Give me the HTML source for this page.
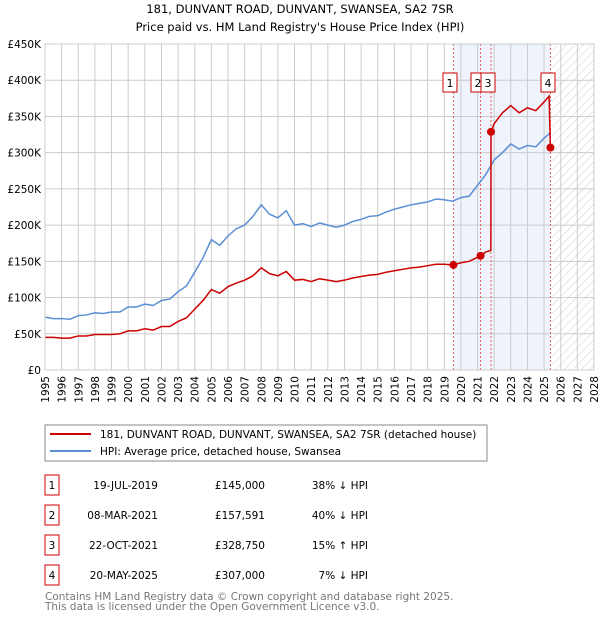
<!DOCTYPE html>
<html><head><meta charset="utf-8"><style>
body{margin:0;background:#fff;font-family:"Liberation Sans","DejaVu Sans",sans-serif;}
svg text{font-family:"DejaVu Sans","Liberation Sans",sans-serif;}
</style></head><body>
<svg id="c" width="600" height="620" viewBox="0 0 600 620" xmlns="http://www.w3.org/2000/svg">
<defs><pattern id="hatch" width="6" height="6" patternUnits="userSpaceOnUse" patternTransform="rotate(45)"><line x1="0" y1="0" x2="0" y2="6" stroke="#ccc" stroke-width="1"/></pattern></defs>
<text x="300" y="13" text-anchor="middle" font-size="11.5">181, DUNVANT ROAD, DUNVANT, SWANSEA, SA2 7SR</text>
<text x="300" y="31" text-anchor="middle" font-size="11.5">Price paid vs. HM Land Registry's House Price Index (HPI)</text>
<g id="plot"></g>
<g>
<rect x="45" y="425" width="442" height="36" fill="#fff" stroke="#888"/>
<line x1="50" y1="434" x2="91" y2="434" stroke="#cc0000" stroke-width="2"/>
<text x="100" y="438" font-size="10.5">181, DUNVANT ROAD, DUNVANT, SWANSEA, SA2 7SR (detached house)</text>
<line x1="50" y1="451" x2="91" y2="451" stroke="#5b8fd4" stroke-width="2"/>
<text x="100" y="455" font-size="10.5">HPI: Average price, detached house, Swansea</text>
</g>
<g id="table" font-size="10.5"></g>
<text x="45" y="600" font-size="10.5" fill="#777">Contains HM Land Registry data © Crown copyright and database right 2025.</text>
<text x="45" y="610" font-size="10.5" fill="#777">This data is licensed under the Open Government Licence v3.0.</text>
</svg>
<script>
const hpiYears=[1995,1995.5,1996,1996.5,1997,1997.5,1998,1998.5,1999,1999.5,2000,2000.5,2001,2001.5,2002,2002.5,2003,2003.5,2004,2004.5,2005,2005.5,2006,2006.5,2007,2007.5,2008,2008.5,2009,2009.5,2010,2010.5,2011,2011.5,2012,2012.5,2013,2013.5,2014,2014.5,2015,2015.5,2016,2016.5,2017,2017.5,2018,2018.5,2019,2019.5,2020,2020.5,2021,2021.5,2022,2022.5,2023,2023.5,2024,2024.5,2025,2025.4];
const hpiValues=[73,71,71,70,75,76,79,78,80,80,87,87,91,89,96,98,108,116,135,155,180,172,185,195,200,212,228,215,210,220,200,202,198,203,200,197,200,205,208,212,213,218,222,225,228,230,232,236,235,233,238,240,255,270,290,300,312,305,310,308,320,328];
const priceYears=[1995,1995.5,1996,1996.5,1997,1997.5,1998,1998.5,1999,1999.5,2000,2000.5,2001,2001.5,2002,2002.5,2003,2003.5,2004,2004.5,2005,2005.5,2006,2006.5,2007,2007.5,2008,2008.5,2009,2009.5,2010,2010.5,2011,2011.5,2012,2012.5,2013,2013.5,2014,2014.5,2015,2015.5,2016,2016.5,2017,2017.5,2018,2018.5,2019,2019.55,2020,2020.5,2021.18,2021.5,2021.8,2021.81,2022,2022.5,2023,2023.5,2024,2024.5,2025,2025.3,2025.38];
const priceValues=[45,45,44,44,47,47,49,49,49,50,54,54,57,55,60,60,67,72,84,96,111,106,115,120,124,130,141,133,130,136,124,125,122,126,124,122,124,127,129,131,132,135,137,139,141,142,144,146,146,145,148,150,157.6,163,165,328.75,340,355,365,355,362,358,370,378,307];
const saleLabels=["1","2","3","4"];
const saleYears=[2019.55,2021.18,2021.81,2025.38];
const saleValues=[145,157.591,328.75,307];
const saleDates=["19-JUL-2019","08-MAR-2021","22-OCT-2021","20-MAY-2025"];
const salePrices=["£145,000","£157,591","£328,750","£307,000"];
const saleHpi=["38% ↓ HPI","40% ↓ HPI","15% ↑ HPI","7% ↓ HPI"];
const yTicks=[0,50,100,150,200,250,300,350,400,450];
const yTickLabels=["£0","£50K","£100K","£150K","£200K","£250K","£300K","£350K","£400K","£450K"];
const xTicks=[1995,1996,1997,1998,1999,2000,2001,2002,2003,2004,2005,2006,2007,2008,2009,2010,2011,2012,2013,2014,2015,2016,2017,2018,2019,2020,2021,2022,2023,2024,2025,2026,2027,2028];

const NS="http://www.w3.org/2000/svg";
const X0=45,X1=594,Y0=370,Y1=44;
const x=v=>X0+(v-1995)/(2028-1995)*(X1-X0);
const y=v=>Y0-v/450*(Y0-Y1);
const plot=document.getElementById('plot');
function mk(tag,attrs,parent){const e=document.createElementNS(NS,tag);for(const k in attrs)e.setAttribute(k,attrs[k]);(parent||plot).appendChild(e);return e;}

let r=mk('rect',{x:X0,y:Y1,width:X1-X0,height:Y0-Y1,fill:'#fff'});


let sh=mk('rect',{x:x(saleYears[0]),y:Y1,width:x(saleYears[3])-x(saleYears[0]),height:Y0-Y1,fill:'#eef3fc'});


let ht=mk('rect',{x:x(2025.5),y:Y1,width:X1-x(2025.5),height:Y0-Y1,fill:'url(#hatch)'});



xTicks.forEach(t=>{
  let g=mk('line',{x1:x(t),x2:x(t),y1:Y1,y2:Y0,stroke:'#ccc','stroke-width':1});
  
  
  let tx=mk('text',{x:0,y:0,'font-size':10.5,'text-anchor':'end',transform:`translate(${x(t)+4},${Y0+6}) rotate(-90)`});
  tx.textContent=t;
  
  
});
yTicks.forEach((t,i)=>{
  let g=mk('line',{x1:X0,x2:X1,y1:y(t),y2:y(t),stroke:'#ccc','stroke-width':1});
  
  
  let tx=mk('text',{x:X0-4,y:y(t)+4,'font-size':10.5,'text-anchor':'end'});
  tx.textContent=yTickLabels[i];
  
  
});
saleYears.forEach((s,i)=>{
  let l=mk('line',{x1:x(s),x2:x(s),y1:Y1,y2:Y0,stroke:'#e06060','stroke-width':1,'stroke-dasharray':'2,2'});
  
  
});
let hp=mk('polyline',{points:hpiYears.map((v,i)=>x(v)+','+y(hpiValues[i])).join(' '),fill:'none',stroke:'#5b8fd4','stroke-width':1.5});


let pp=mk('polyline',{points:priceYears.map((v,i)=>x(v)+','+y(priceValues[i])).join(' '),fill:'none',stroke:'#cc0000','stroke-width':1.5});


saleYears.forEach((s,i)=>{
  let c=mk('circle',{cx:x(s),cy:y(saleValues[i]),r:4,fill:'#cc0000'});
  
  
});
const lx=[450,478,488,548];
saleLabels.forEach((t,i)=>{
  let b=mk('rect',{x:lx[i]-7,y:73,width:14,height:19,fill:'#fff',stroke:'#cc0000'});
  
  
  let tx=mk('text',{x:lx[i],y:87,'font-size':11,'text-anchor':'middle'});
  tx.textContent=t;
  
  
});
let fr=mk('rect',{x:X0,y:Y1,width:X1-X0,height:Y0-Y1,fill:'none',stroke:'#ccc'});



const tb=document.getElementById('table');
saleLabels.forEach((t,i)=>{
  const yy=483+i*30;
  let b=mk('rect',{x:45,y:yy-8,width:14,height:20,fill:'#fff',stroke:'#cc0000'},tb);
  
  
  const cells=[[52,t,'middle'],[158,saleDates[i],'end'],[265,salePrices[i],'end'],[368,saleHpi[i],'end']];
  cells.forEach(c=>{
    let tx=mk('text',{x:c[0],y:yy+6,'text-anchor':c[2]},tb);
    tx.textContent=c[1];
    
    
  });
});
</script>
</body></html>
